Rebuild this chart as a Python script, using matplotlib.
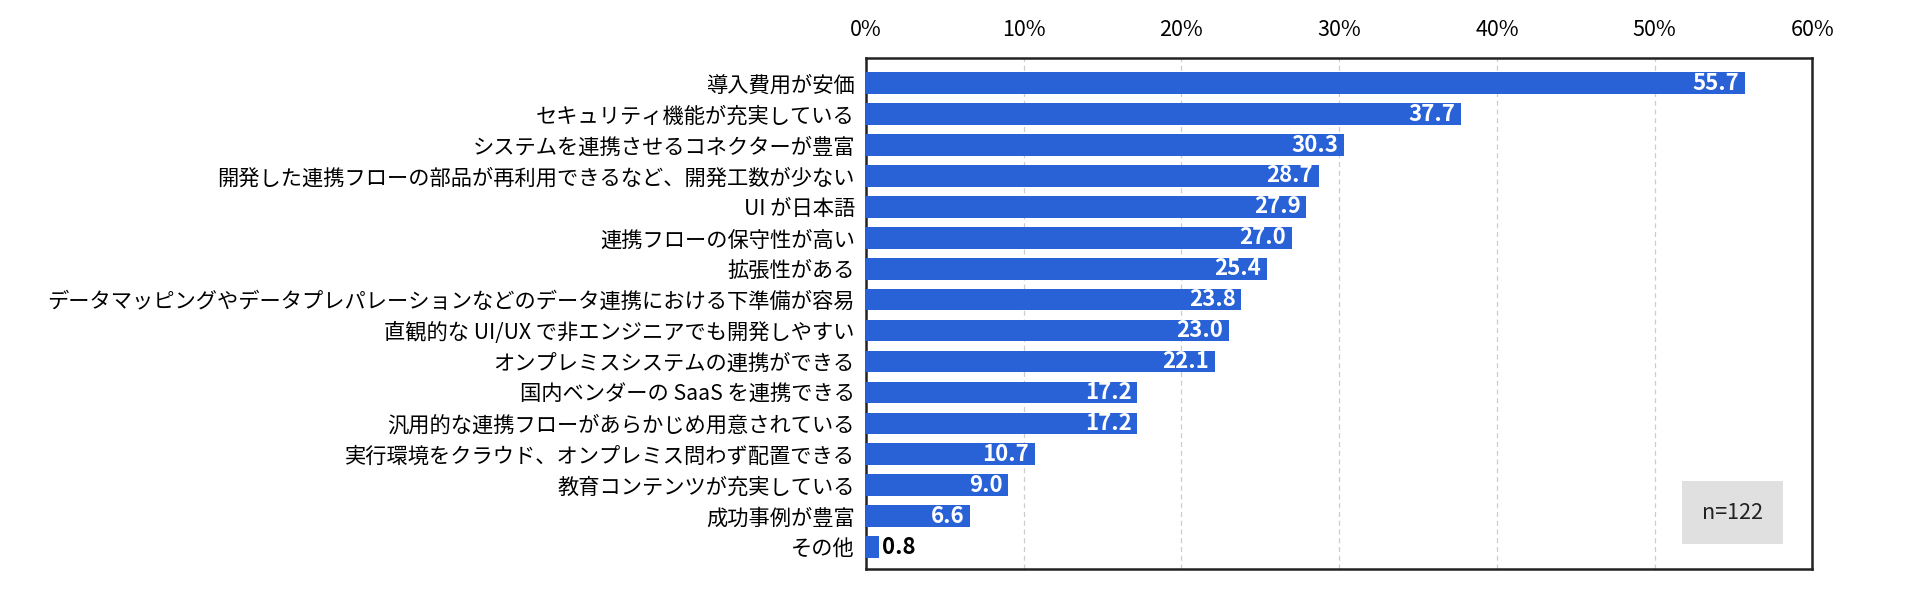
import matplotlib
matplotlib.use("Agg")
import matplotlib.pyplot as plt
import numpy as np

plt.rcParams['font.family'] = ['Noto Sans CJK JP', 'DejaVu Sans']

# データ
labels = [
    "導入費用が安価",
    "セキュリティ機能が充実している",
    "システムを連携させるコネクターが豊富",
    "開発した連携フローの部品が再利用できるなど、開発工数が少ない",
    "UI が日本語",
    "連携フローの保守性が高い",
    "拡張性がある",
    "データマッピングやデータプレパレーションなどのデータ連携における下準備が容易",
    "直観的な UI/UX で非エンジニアでも開発しやすい",
    "オンプレミスシステムの連携ができる",
    "国内ベンダーの SaaS を連携できる",
    "汎用的な連携フローがあらかじめ用意されている",
    "実行環境をクラウド、オンプレミス問わず配置できる",
    "教育コンテンツが充実している",
    "成功事例が豊富",
    "その他",
]
values = [55.7, 37.7, 30.3, 28.7, 27.9, 27.0, 25.4, 23.8, 23.0, 22.1, 17.2, 17.2, 10.7, 9.0, 6.6, 0.8]
xticks = [0, 10, 20, 30, 40, 50, 60]
n_label = "n=122"

bar_color = "#2962d6"


def main():
    fig = plt.figure(figsize=(19.2, 5.99), dpi=100)
    ax = fig.add_axes([0.451, 0.050, 0.493, 0.853])

    y = np.arange(len(labels))
    ax.barh(y, values, height=0.7, color=bar_color, zorder=3)

    # 値ラベル
    for yi, v in zip(y, values):
        if v >= 3:
            ax.text(v - 0.35, yi, f"{v:.1f}", ha="right", va="center",
                    color="white", fontsize=16, fontweight="bold", zorder=4)
        else:
            ax.text(v + 0.2, yi, f"{v:.1f}", ha="left", va="center",
                    color="black", fontsize=16, fontweight="bold", zorder=4)

    ax.set_xlim(0, 60)
    ax.set_ylim(len(labels) - 0.29, -0.81)
    ax.set_yticks(y)
    ax.set_yticklabels(labels, fontsize=15.3)
    ax.set_xticks(xticks)
    ax.set_xticklabels([f"{t}%" for t in xticks], fontsize=15.5)
    ax.xaxis.tick_top()
    ax.tick_params(axis="both", length=0)
    ax.tick_params(axis="y", pad=8)
    ax.tick_params(axis="x", pad=12)

    ax.grid(axis="x", color="#cccccc", linestyle=(0, (4, 3)), linewidth=0.9, zorder=0)
    for s in ax.spines.values():
        s.set_color("#222222")
        s.set_linewidth(1.8)

    # n=122 ボックス
    ax.text(0.9155, 0.11, n_label, transform=ax.transAxes, ha="center", va="center",
            fontsize=15.5, color="#222222", zorder=5,
            bbox=dict(boxstyle="square,pad=0.95", facecolor="#e0e0e0", edgecolor="none"))

    fig.savefig("out.png", dpi=100)


if __name__ == "__main__":
    main()
